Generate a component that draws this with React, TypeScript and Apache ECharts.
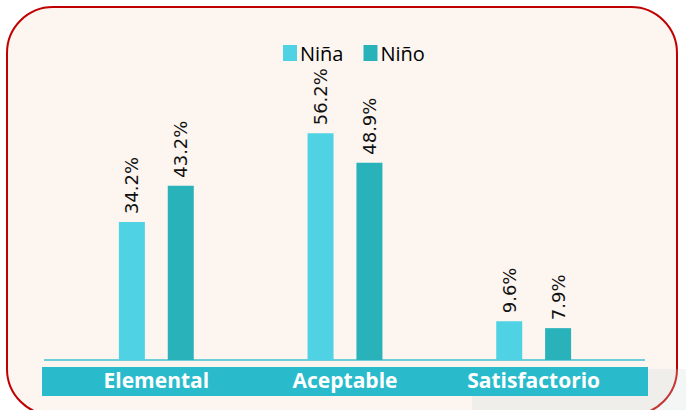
import React, { useEffect, useRef } from "react";
import * as echarts from "echarts";

const categories = ["Elemental", "Aceptable", "Satisfactorio"];
const ninaValues = [34.2, 56.2, 9.6];
const ninoValues = [43.2, 48.9, 7.9];
const seriesNames = ["Niña", "Niño"];

export default function App() {
  const ref = useRef<HTMLDivElement>(null);
  useEffect(() => {
    const chart = echarts.init(ref.current!, null, { renderer: "svg" });
    const label = {
      show: true,
      position: "top",
      rotate: 90,
      align: "left",
      verticalAlign: "middle",
      distance: 8,
      fontFamily: "DejaVu Sans",
      fontSize: 18,
      color: "#111",
      formatter: (p: any) => p.value.toFixed(1) + "%",
    };
    chart.setOption({
      animation: false,
      backgroundColor: "#ffffff",
      graphic: [
        {
          type: "rect",
          z: -10,
          shape: { x: 7, y: 7, width: 670, height: 408, r: 46 },
          style: { fill: "#FDF5F0", stroke: "#C00000", lineWidth: 2 },
        },
        {
          type: "rect",
          z: -9,
          shape: { x: 472, y: 369, width: 214, height: 41 },
          style: { fill: "rgba(205,220,215,0.25)" },
        },
        {
          type: "rect",
          z: -5,
          shape: { x: 42, y: 367, width: 606, height: 29 },
          style: { fill: "#29BBCB" },
        },
        {
          type: "line",
          z: -5,
          shape: { x1: 44, y1: 360, x2: 645, y2: 360 },
          style: { stroke: "#6DCFD8", lineWidth: 2 },
        },
      ],
      legend: {
        top: 38,
        left: 278,
        itemWidth: 14,
        itemHeight: 16,
        itemGap: 20,
        icon: "rect",
        data: seriesNames,
        textStyle: { fontFamily: "Open Sans", fontSize: 20, color: "#000", padding: [0, 0, 0, -2] },
      },
      grid: { left: 62, right: 58, top: 118, bottom: 50 },
      xAxis: {
        type: "category",
        data: categories,
        axisLine: { show: false },
        axisTick: { show: false },
        axisLabel: {
          color: "#ffffff",
          fontFamily: "Open Sans",
          fontWeight: "bold",
          fontSize: 21,
          margin: 9,
        },
      },
      yAxis: {
        type: "value",
        min: 0,
        max: 60,
        show: false,
        splitLine: { show: false },
      },
      series: [
        {
          name: seriesNames[0],
          type: "bar",
          data: ninaValues,
          barWidth: 26,
          barGap: "88%",
          itemStyle: { color: "#4FD2E4" },
          label,
        },
        {
          name: seriesNames[1],
          type: "bar",
          data: ninoValues,
          barWidth: 26,
          itemStyle: { color: "#2AB2BA" },
          label,
        },
      ],
    });
    return () => chart.dispose();
  }, []);
  return <div ref={ref} style={{ width: 686, height: 410, position: "absolute", left: 0, top: 0 }} />;
}
